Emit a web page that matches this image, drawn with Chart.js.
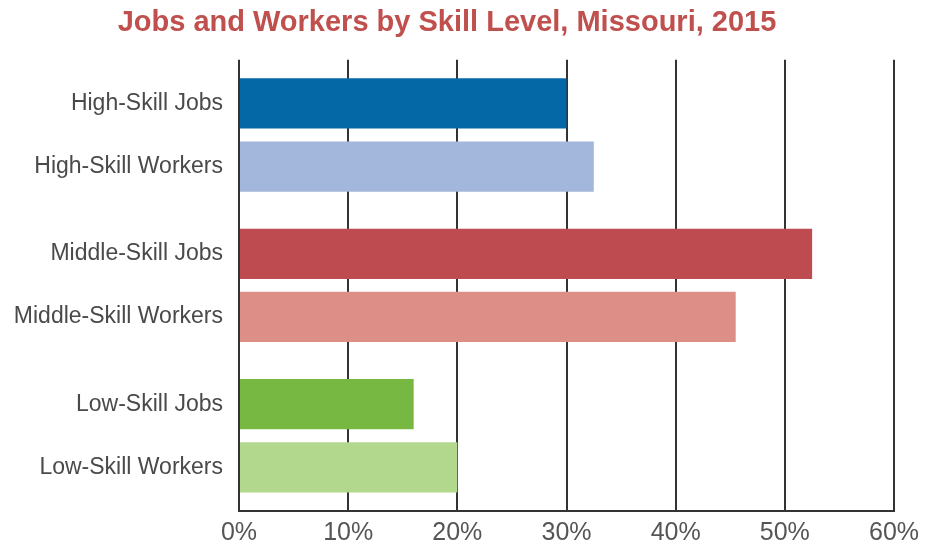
<!DOCTYPE html>
<html>
<head>
<meta charset="utf-8">
<script src="https://cdn.jsdelivr.net/npm/chart.js@4"></script>
<style>
  html, body { margin: 0; padding: 0; background: #fff; }
  #wrap { width: 934px; height: 548px; position: relative; }
</style>
</head>
<body>
<div id="wrap"><canvas id="c"></canvas></div>
<script>
const skillLevels = ['High-Skill', 'Middle-Skill', 'Low-Skill'];
const jobsValues = [30, 52.5, 16];
const workersValues = [32.5, 45.5, 20];
const jobsColors = ['#0568a6', '#be4b4f', '#77b843'];
const workersColors = ['#a3b6dc', '#dd8e86', '#b1d88c'];
const xTicks = [0, 10, 20, 30, 40, 50, 60];
const titleText = 'Jobs and Workers by Skill Level, Missouri, 2015';

const barLabelPlugin = {
  id: 'barLabels',
  afterDatasetsDraw(chart) {
    const ctx = chart.ctx;
    const left = chart.chartArea.left;
    ctx.save();
    ctx.font = '23px "Liberation Sans", Arial, sans-serif';
    ctx.fillStyle = '#4a4a4a';
    ctx.textAlign = 'right';
    ctx.textBaseline = 'middle';
    chart.data.datasets.forEach((ds, di) => {
      const meta = chart.getDatasetMeta(di);
      meta.data.forEach((el, i) => {
        ctx.fillText(skillLevels[i] + ' ' + ds.label, left - 16, el.y);
      });
    });
    ctx.restore();
  }
};

new Chart(document.getElementById('c'), {
  type: 'bar',
  data: {
    labels: skillLevels,
    datasets: [
      { label: 'Jobs', data: jobsValues, backgroundColor: jobsColors, categoryPercentage: 0.84, barPercentage: 0.795 },
      { label: 'Workers', data: workersValues, backgroundColor: workersColors, categoryPercentage: 0.84, barPercentage: 0.795 }
    ]
  },
  options: {
    indexAxis: 'y',
    responsive: true,
    maintainAspectRatio: false,
    animation: false,
    layout: { padding: { left: 0, right: 40, top: 0, bottom: 0 } },
    plugins: {
      legend: { display: false },
      tooltip: { enabled: false },
      title: {
        display: true,
        text: titleText,
        color: '#c0504d',
        font: { family: '"Liberation Sans", Arial, sans-serif', size: 29, weight: 'bold' },
        padding: { top: 6, bottom: 19 }
      }
    },
    scales: {
      x: {
        min: 0,
        max: 60,
        afterBuildTicks(axis) { axis.ticks = xTicks.map(v => ({ value: v })); },
        afterFit(axis) { axis.height = 37; },
        ticks: {
          callback: v => v + '%',
          color: '#555',
          font: { family: '"Liberation Sans", Arial, sans-serif', size: 25, lineHeight: 1 },
          padding: 10,
          maxRotation: 0
        },
        grid: { color: '#333', lineWidth: 2, drawTicks: false },
        border: { display: true, color: '#333', width: 2 }
      },
      y: {
        ticks: { display: false },
        grid: { display: false },
        border: { display: false },
        afterFit(axis) { axis.width = 239; }
      }
    }
  },
  plugins: [barLabelPlugin]
});
</script>
</body>
</html>
